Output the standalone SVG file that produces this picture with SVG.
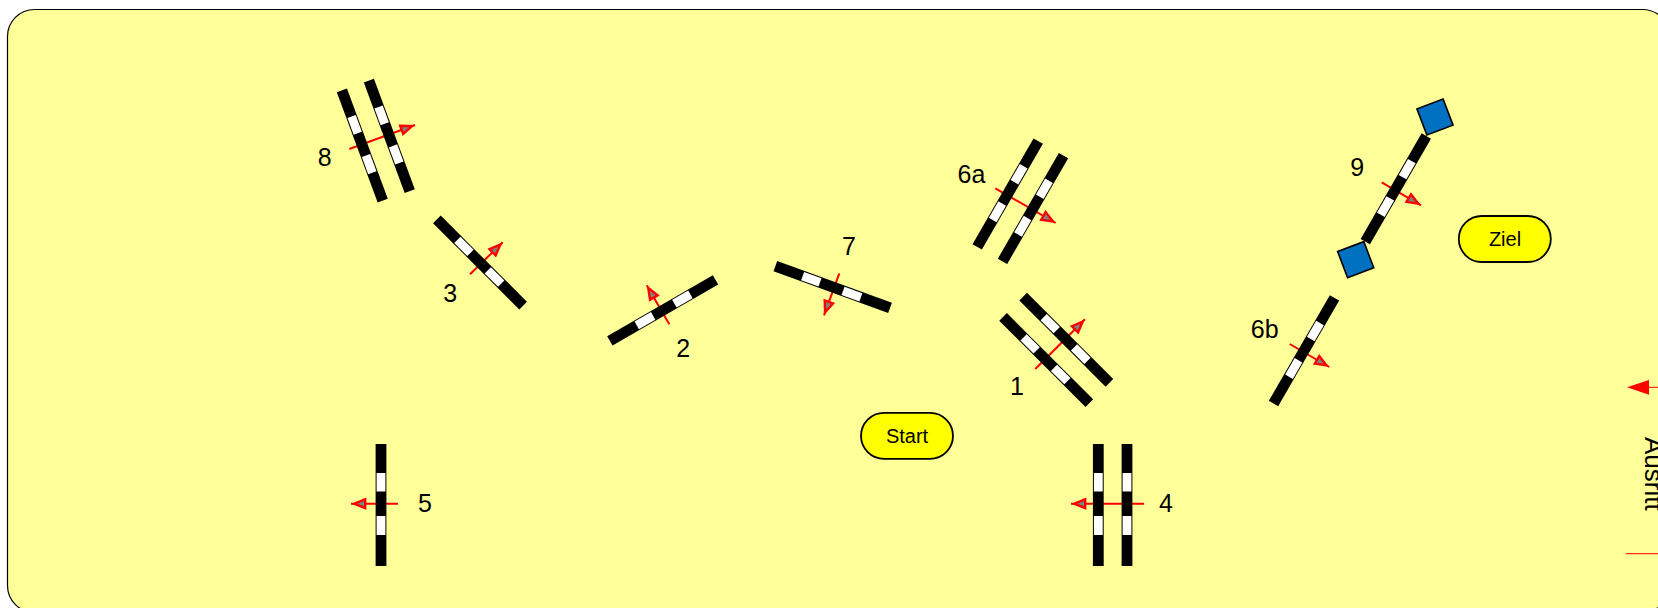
<svg xmlns="http://www.w3.org/2000/svg" width="1658" height="608" viewBox="0 0 1658 608">
<style>
text{font-family:"Liberation Sans",Arial,sans-serif;fill:#000}
.n{font-size:25px;text-anchor:middle}
.t{font-size:20px;text-anchor:middle}
.a{stroke:#ff0000;stroke-width:2;fill:none;marker-end:url(#head)}
.pill{fill:#ffff00;stroke:#000;stroke-width:1.8}
.sq{fill:#0070c0;stroke:#000;stroke-width:1.6}
</style>
<defs>
<marker id="head" markerUnits="userSpaceOnUse" markerWidth="24" markerHeight="20" refX="14.2" refY="0" orient="auto" overflow="visible">
<path d="M0,-4.4 L11,0 L0,4.4Z" fill="#808080" stroke="#ff0000" stroke-width="2.4"/>
</marker>
<g id="gate">
<rect x="-5.4" y="-61" width="10.8" height="122" fill="#000"/>
<rect x="-4.4" y="-32" width="8.8" height="18.5" fill="#fff"/>
<rect x="-4.4" y="11" width="8.8" height="19" fill="#fff"/>
</g>
</defs>
<rect id="ground" x="7.5" y="9.5" width="1662" height="603" rx="27" ry="27" fill="#ffff99" stroke="#000" stroke-width="1.2"/>
<g id="connectors">
<line class="a" x1="1035.3" y1="369" x2="1085" y2="319.3"/>
<line class="a" x1="669.3" y1="324.3" x2="646.7" y2="285.3"/>
<line class="a" x1="470" y1="274.3" x2="502.7" y2="242.3"/>
<line class="a" x1="1144" y1="503.7" x2="1071" y2="503.7"/>
<line class="a" x1="398" y1="503.7" x2="351" y2="503.7"/>
<line class="a" x1="995.3" y1="188.3" x2="1055.7" y2="223"/>
<line class="a" x1="1289.7" y1="344" x2="1329.3" y2="367"/>
<line class="a" x1="839.3" y1="273.3" x2="824" y2="315.3"/>
<line class="a" x1="349.3" y1="149" x2="415" y2="125"/>
<line class="a" x1="1381.7" y1="182.3" x2="1421" y2="205.3"/>
</g>
<g id="gate-1"><use href="#gate" transform="translate(1046.2,360) rotate(-45)"/><use href="#gate" transform="translate(1066.3,339.7) rotate(-45)"/><text class="n" x="1017" y="395">1</text></g>
<g id="gate-2"><use href="#gate" transform="translate(662.7,310.4) rotate(60)"/><text class="n" x="683.3" y="356.7">2</text></g>
<g id="gate-3"><use href="#gate" transform="translate(480,262.5) rotate(-45)"/><text class="n" x="450.3" y="302.3">3</text></g>
<g id="gate-4"><use href="#gate" transform="translate(1098.3,505)"/><use href="#gate" transform="translate(1127,505)"/><text class="n" x="1166" y="512">4</text></g>
<g id="gate-5"><use href="#gate" transform="translate(381,505)"/><text class="n" x="425" y="512">5</text></g>
<g id="gate-6a"><use href="#gate" transform="translate(1007.7,194) rotate(30)"/><use href="#gate" transform="translate(1033,208.5) rotate(30)"/><text class="n" x="971.5" y="183.3">6a</text></g>
<g id="gate-6b"><use href="#gate" transform="translate(1304,350.7) rotate(30)"/><text class="n" x="1264.7" y="338.3">6b</text></g>
<g id="gate-7"><use href="#gate" transform="translate(832.7,287) rotate(-70)"/><text class="n" x="849" y="254.5">7</text></g>
<g id="gate-8"><use href="#gate" transform="translate(362.3,145.5) rotate(-20.3) scale(1,.965)"/><use href="#gate" transform="translate(389.3,135.9) rotate(-20.3) scale(1,.965)"/><text class="n" x="324.6" y="166">8</text></g>
<g id="gate-9"><use href="#gate" transform="translate(1395.8,188.8) rotate(30)"/>
<rect class="sq" x="-14" y="-14" width="28" height="28" transform="translate(1435,117) rotate(-20.8)"/>
<rect class="sq" x="-14" y="-14" width="28" height="28" transform="translate(1355.7,259.7) rotate(-20.8)"/>
<text class="n" x="1357.3" y="175.7">9</text></g>
<g id="start"><rect class="pill" x="861" y="412.8" width="92" height="46" rx="23"/><text class="t" x="907" y="442.7">Start</text></g>
<g id="ziel"><rect class="pill" x="1458.8" y="216" width="92" height="46" rx="23"/><text class="t" x="1505" y="245.7">Ziel</text></g>
<g id="ausritt">
<text font-size="26" transform="translate(1644.5,437) rotate(90)">Ausritt</text>
<line x1="1658" y1="387.3" x2="1640" y2="387.3" stroke="#ff0000" stroke-width="1"/>
<polygon points="1627,387.3 1649,380 1649,394.7" fill="#ff0000"/>
<line x1="1626" y1="553.7" x2="1658" y2="553.7" stroke="#ff0000" stroke-width="1"/>
</g>
</svg>
